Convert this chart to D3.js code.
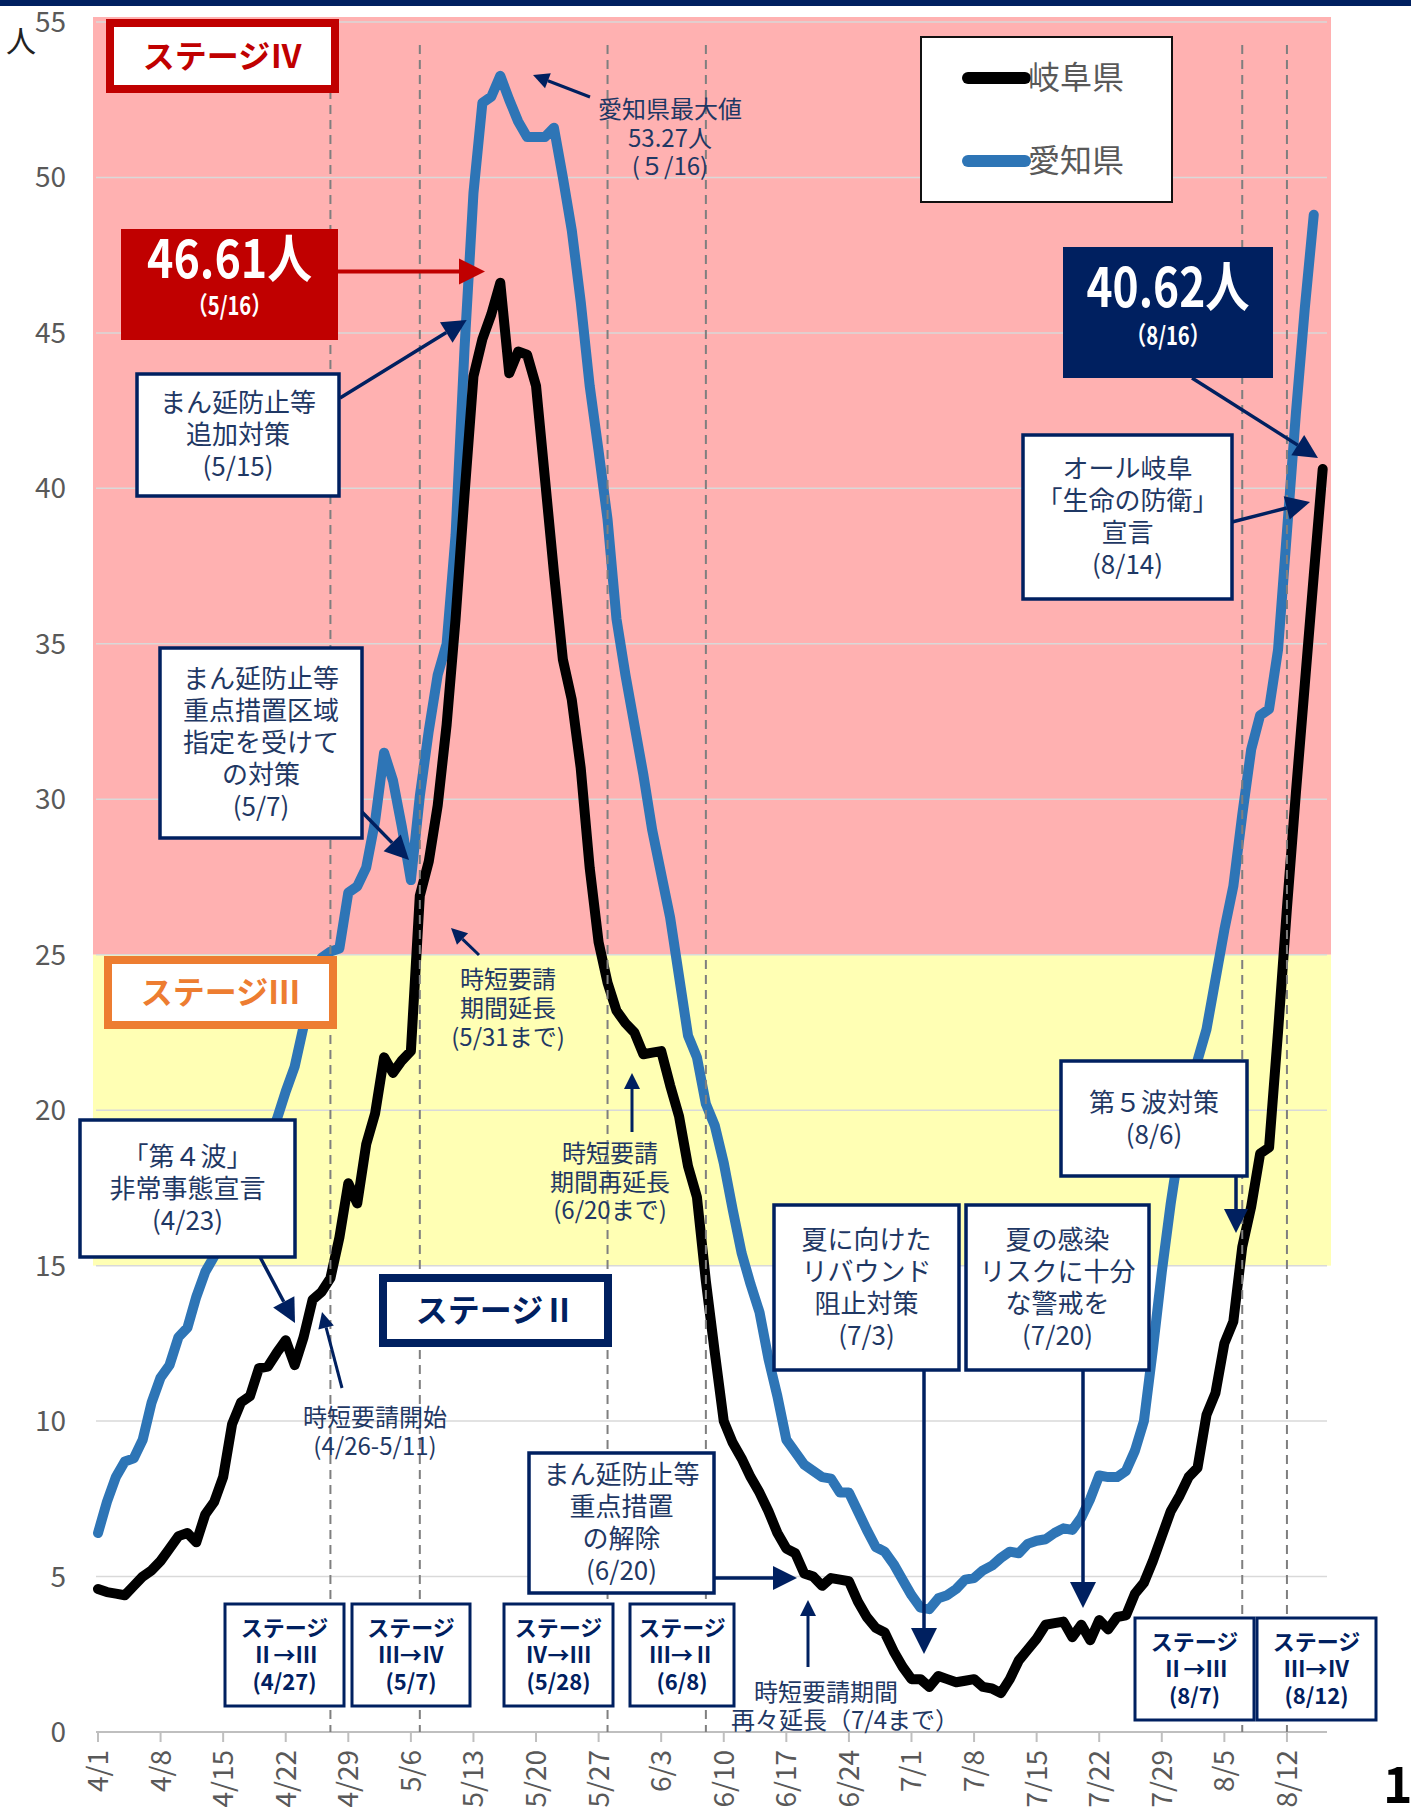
<!DOCTYPE html>
<html>
<head>
<meta charset="utf-8">
<script src="https://cdn.jsdelivr.net/npm/d3@7"></script>
<style>
  body { margin: 0; background: #fff; }
  svg { display: block; font-family: "Noto Sans CJK JP", "Noto Sans", sans-serif; }
</style>
</head>
<body>
<svg id="chart" width="1411" height="1817"></svg>
<script>
const svg = d3.select('#chart')

// ---- data ----
const days = d3.timeDay.range(new Date(2021, 3, 1), new Date(2021, 7, 17)) // 4/1 .. 8/16
const tickLabels = ['4/1','4/8','4/15','4/22','4/29','5/6','5/13','5/20','5/27','6/3',
  '6/10','6/17','6/24','7/1','7/8','7/15','7/22','7/29','8/5','8/12']
const yTicks = [0, 5, 10, 15, 20, 25, 30, 35, 40, 45, 50, 55]

// 岐阜県 (4/1 - 8/16)
const gifu = [
  4.6, 4.5, 4.45, 4.4, 4.7, 5.0, 5.2, 5.5, 5.9, 6.3,
  6.4, 6.1, 7.0, 7.4, 8.2, 9.9, 10.6, 10.8, 11.7, 11.75,
  12.2, 12.6, 11.8, 12.7, 13.9, 14.15, 14.6, 15.9, 17.65, 17.0,
  18.9, 19.9, 21.7, 21.2, 21.6, 21.9, 26.9, 28.0, 29.8, 32.4,
  35.8, 39.8, 43.6, 44.8, 45.6, 46.61, 43.7, 44.4, 44.3, 43.3,
  40.3, 37.3, 34.5, 33.2, 31.0, 27.8, 25.4, 24.1, 23.2, 22.8,
  22.5,
  21.8, 21.85, 21.9, 20.8, 19.8, 18.2, 17.2, 14.5, 12.2, 10.0,
  9.3, 8.8, 8.2, 7.7, 7.1, 6.4, 5.9, 5.75, 5.1, 5.0,
  4.7, 4.95, 4.9, 4.85, 4.2, 3.7, 3.35, 3.2, 2.6, 2.1,
  1.7, 1.7, 1.45, 1.8, 1.7, 1.6, 1.65, 1.7, 1.45, 1.4,
  1.25, 1.7, 2.3, 2.65, 3.0, 3.45, 3.5, 3.55, 3.05, 3.45,
  2.95, 3.6, 3.3, 3.7, 3.75, 4.45, 4.8, 5.5, 6.3, 7.1,
  7.6,
  8.2, 8.5, 10.2, 10.9, 12.5, 13.2, 15.6, 16.9, 18.6, 18.8,
  22.5, 26.5, 30.2, 33.7, 37.2, 40.62
]

// 愛知県 (4/1 - 8/15)
const aichi = [
  6.4, 7.4, 8.2, 8.7, 8.8, 9.4, 10.6, 11.4, 11.8, 12.7,
  13.0, 14.0, 14.8, 15.3, 15.9, 16.6, 17.2, 17.7, 18.3, 19.0,
  19.7, 20.6, 21.4, 22.7, 24.0, 24.9, 25.1, 25.2, 27.0, 27.2,
  27.8, 29.3, 31.5, 30.6, 29.1, 27.4, 30.1, 32.2, 34.0, 35.0,
  38.5, 44.5, 49.5, 52.4, 52.6, 53.27, 52.5, 51.8, 51.3, 51.3,
  51.3, 51.6, 50.0, 48.3, 46.0, 43.3, 41.2, 39.0, 35.8, 34.0,
  32.4,
  30.8, 29.0, 27.6, 26.2, 24.3, 22.4, 21.7, 20.2, 19.5, 18.3,
  16.8, 15.4, 14.4, 13.5, 12.0, 10.8, 9.4, 9.0, 8.6, 8.4,
  8.2, 8.15, 7.7, 7.7, 7.1, 6.5, 5.95, 5.8, 5.4, 4.9,
  4.4, 4.0, 3.95, 4.3, 4.4, 4.6, 4.9, 4.95, 5.2, 5.35,
  5.6, 5.8, 5.75, 6.05, 6.15, 6.2, 6.4, 6.55, 6.5, 6.9,
  7.5, 8.25, 8.2, 8.2, 8.4, 9.05, 10.0, 12.3, 14.8, 17.0,
  18.9,
  20.4, 21.6, 22.6, 24.2, 25.8, 27.2, 29.5, 31.6, 32.7, 32.9,
  34.8, 38.6, 42.4, 45.8, 48.8
]

const stageDates = ['4/27', '5/7', '5/28', '6/8', '8/7', '8/12']

const parseMD = s => { const [m, d] = s.split('/').map(Number); return new Date(2021, m - 1, d) }

// ---- colours ----
const navy = '#002060'
const noteColor = '#1F3864'
const gray = '#595959'

// ---- scales ----
const x = d3.scaleTime().domain([days[0], days[days.length - 1]]).range([98, 1322.7])
const y = d3.scaleLinear().domain([0, 55]).range([1732, 22])
const plotL = 93, plotR = 1331

// top bar
svg.append('rect').attr('x', 0).attr('y', 0).attr('width', 1411).attr('height', 6).attr('fill', navy)

// stage bands
svg.append('rect').attr('x', plotL).attr('y', y(55) - 5).attr('width', plotR - plotL)
  .attr('height', y(25) - y(55) + 5).attr('fill', '#FFB1B1')
svg.append('rect').attr('x', plotL).attr('y', y(25)).attr('width', plotR - plotL)
  .attr('height', y(15) - y(25)).attr('fill', '#FFFFB4')

// grid
svg.append('g').selectAll('line').data(yTicks.filter(v => v > 0)).join('line')
  .attr('x1', 96).attr('x2', 1327)
  .attr('y1', d => y(d)).attr('y2', d => y(d))
  .attr('stroke', '#D9D9D9').attr('stroke-width', 1.5)

// y axis labels
svg.append('g').selectAll('text').data(yTicks).join('text')
  .attr('x', 66).attr('y', d => y(d) + 10)
  .attr('text-anchor', 'end')
  .attr('font-size', 28).attr('fill', gray)
  .text(d => d)
svg.append('text').attr('x', 21).attr('y', 52).attr('text-anchor', 'middle')
  .attr('font-size', 30).attr('fill', '#222').text('人')

// x axis
svg.append('line').attr('x1', 96).attr('x2', 1327).attr('y1', y(0)).attr('y2', y(0))
  .attr('stroke', '#BFBFBF').attr('stroke-width', 2)
const xt = svg.append('g')
xt.selectAll('line').data(tickLabels).join('line')
  .attr('x1', d => x(parseMD(d))).attr('x2', d => x(parseMD(d)))
  .attr('y1', y(0)).attr('y2', y(0) + 10)
  .attr('stroke', '#BFBFBF').attr('stroke-width', 2)
xt.selectAll('text').data(tickLabels).join('text')
  .attr('transform', d => `translate(${x(parseMD(d)) + 10},1750) rotate(-90)`)
  .attr('text-anchor', 'end')
  .attr('font-size', 28).attr('fill', gray)
  .text(d => d)

// series
const line = d3.line().x((d, i) => x(days[i])).y(d => y(d))
svg.append('path').datum(aichi).attr('d', line).attr('fill', 'none')
  .attr('stroke', '#2E75B6').attr('stroke-width', 10)
  .attr('stroke-linejoin', 'round').attr('stroke-linecap', 'round')
svg.append('path').datum(gifu).attr('d', line).attr('fill', 'none')
  .attr('stroke', '#000').attr('stroke-width', 10)
  .attr('stroke-linejoin', 'round').attr('stroke-linecap', 'round')

// stage change dashed lines
svg.append('g').selectAll('line').data(stageDates).join('line')
  .attr('x1', d => x(parseMD(d))).attr('x2', d => x(parseMD(d)))
  .attr('y1', 45).attr('y2', y(0))
  .attr('stroke', '#7F7F7F').attr('stroke-width', 2).attr('stroke-dasharray', '9 6')

// ---- annotations ----
const ann = svg.append('g')

function arrow(x1, y1, x2, y2, color, sw, hl, hw) {
  const a = Math.atan2(y2 - y1, x2 - x1)
  const bx = x2 - hl * Math.cos(a), by = y2 - hl * Math.sin(a)
  const px = -Math.sin(a) * hw, py = Math.cos(a) * hw
  ann.append('line').attr('x1', x1).attr('y1', y1).attr('x2', bx).attr('y2', by)
    .attr('stroke', color).attr('stroke-width', sw)
  ann.append('path').attr('d', `M${x2},${y2}L${bx + px},${by + py}L${bx - px},${by - py}Z`).attr('fill', color)
}

// one text element per block, one tspan per line (ys = visual line centres)
function textLines(cx, ys, lines, size, color, weight) {
  const t = ann.append('text')
    .attr('text-anchor', 'middle')
    .attr('font-size', size).attr('font-weight', weight || 400).attr('fill', color)
  lines.forEach((s, i) => {
    t.append('tspan').attr('x', cx).attr('y', ys[i] + size * 0.36).text(s)
  })
  return t
}

function noteBox(x0, y0, x1, y1, lines) {
  ann.append('rect').attr('x', x0).attr('y', y0).attr('width', x1 - x0).attr('height', y1 - y0)
    .attr('fill', '#fff').attr('stroke', navy).attr('stroke-width', 3.5)
  const cy = (y0 + y1) / 2
  const ys = lines.map((t, i) => cy + (i - (lines.length - 1) / 2) * 32)
  textLines((x0 + x1) / 2, ys, lines, 26, noteColor)
}

function stageBox(x0, y0, x1, y1, label, color) {
  ann.append('rect').attr('x', x0).attr('y', y0).attr('width', x1 - x0).attr('height', y1 - y0)
    .attr('fill', '#fff').attr('stroke', color).attr('stroke-width', 8)
  textLines((x0 + x1) / 2, [(y0 + y1) / 2], [label], 32, color, 700)
}

function changeBox(x0, y0, x1, y1, lines) {
  ann.append('rect').attr('x', x0).attr('y', y0).attr('width', x1 - x0).attr('height', y1 - y0)
    .attr('fill', '#fff').attr('stroke', navy).attr('stroke-width', 3)
  const cy = (y0 + y1) / 2
  textLines((x0 + x1) / 2, [cy - 27, cy, cy + 27], lines, 22, navy, 700)
}

// stage labels
stageBox(110, 23, 335, 89, 'ステージⅣ', '#C00000')
stageBox(108, 960, 333, 1025, 'ステージⅢ', '#ED7D31')
stageBox(383, 1278, 608, 1343, 'ステージⅡ', navy)

// peak value boxes
ann.append('rect').attr('x', 121).attr('y', 229).attr('width', 217).attr('height', 111).attr('fill', '#C00000')
const redT = ann.append('text').attr('text-anchor', 'middle').attr('font-weight', 700).attr('fill', '#fff')
redT.append('tspan').attr('x', 229.5).attr('y', 278).attr('font-size', 52)
  .attr('textLength', 165).attr('lengthAdjust', 'spacingAndGlyphs').text('46.61人')
redT.append('tspan').attr('x', 229.5).attr('y', 315).attr('font-size', 25)
  .attr('textLength', 84).attr('lengthAdjust', 'spacingAndGlyphs').text('（5/16）')
arrow(338, 271.5, 485, 271.5, '#C00000', 4, 26, 13)

ann.append('rect').attr('x', 1063).attr('y', 247).attr('width', 210).attr('height', 131).attr('fill', navy)
const navyT = ann.append('text').attr('text-anchor', 'middle').attr('font-weight', 700).attr('fill', '#fff')
navyT.append('tspan').attr('x', 1168).attr('y', 307).attr('font-size', 54)
  .attr('textLength', 163).attr('lengthAdjust', 'spacingAndGlyphs').text('40.62人')
navyT.append('tspan').attr('x', 1168).attr('y', 345).attr('font-size', 25)
  .attr('textLength', 84).attr('lengthAdjust', 'spacingAndGlyphs').text('（8/16）')
arrow(1192, 378, 1318, 458, navy, 3.5, 24, 12)

// legend
ann.append('rect').attr('x', 921).attr('y', 37).attr('width', 251).attr('height', 165)
  .attr('fill', '#fff').attr('stroke', '#111').attr('stroke-width', 2)
const legendItems = [['岐阜県', '#000', 78], ['愛知県', '#2E75B6', 161]]
legendItems.forEach(([name, c, ly]) => {
  ann.append('line').attr('x1', 968).attr('x2', 1025).attr('y1', ly).attr('y2', ly)
    .attr('stroke', c).attr('stroke-width', 12).attr('stroke-linecap', 'round')
  ann.append('text').attr('x', 1028).attr('y', ly + 11)
    .attr('font-size', 32).attr('fill', gray).text(name)
})

// boxed notes
noteBox(137, 374, 339, 496, ['まん延防止等', '追加対策', '(5/15)'])
arrow(340, 398, 466.7, 320, navy, 3.5, 24, 12)

noteBox(160, 648, 362, 838, ['まん延防止等', '重点措置区域', '指定を受けて', 'の対策', '(5/7)'])
arrow(362, 812, 409, 860, navy, 3.5, 24, 12)

noteBox(80, 1120, 295, 1257, ['「第４波」', '非常事態宣言', '(4/23)'])
arrow(260, 1257, 295, 1323, navy, 3.5, 24, 12)

noteBox(774, 1205, 959, 1370, ['夏に向けた', 'リバウンド', '阻止対策', '(7/3)'])
arrow(924, 1370, 924, 1654, navy, 3.5, 26, 13)

noteBox(966, 1205, 1149, 1370, ['夏の感染', 'リスクに十分', 'な警戒を', '(7/20)'])
arrow(1083, 1370, 1083, 1608, navy, 3.5, 26, 13)

noteBox(1061, 1061, 1247, 1176, ['第５波対策', '(8/6)'])
arrow(1236, 1176, 1236, 1233, navy, 3.5, 24, 12)

noteBox(1023, 435, 1232, 599, ['オール岐阜', '「生命の防衛」', '宣言', '(8/14)'])
arrow(1232, 522, 1310, 502, navy, 3.5, 24, 12)

noteBox(529, 1453, 714, 1593, ['まん延防止等', '重点措置', 'の解除', '(6/20)'])
arrow(714, 1578, 797, 1578, navy, 3.5, 24, 12)

// plain notes
textLines(375, [1417, 1446], ['時短要請開始', '(4/26-5/11)'], 24, noteColor)
arrow(342, 1388, 322, 1312, navy, 3, 16, 8)

textLines(508, [979, 1008, 1037], ['時短要請', '期間延長', '(5/31まで)'], 24, noteColor)
arrow(479, 955, 451, 928, navy, 3, 16, 8)

textLines(610, [1153, 1182, 1210], ['時短要請', '期間再延長', '(6/20まで)'], 24, noteColor)
arrow(632, 1132, 632, 1073, navy, 3, 16, 8)

textLines(670, [109, 138, 166], ['愛知県最大値', '53.27人', '(５/16)'], 24, noteColor)
arrow(590, 97, 533, 75, navy, 3, 16, 8)

const m = textLines(826, [1692, 1720], ['時短要請期間', '再々延長（7/4まで）'], 24, noteColor)
m.selectAll('tspan').filter((d, i) => i === 1).attr('x', 845)
arrow(808, 1667, 808, 1600, navy, 3, 16, 8)

// stage change boxes
changeBox(225, 1604, 344, 1706, ['ステージ', 'Ⅱ→Ⅲ', '(4/27)'])
changeBox(352, 1604, 470, 1706, ['ステージ', 'Ⅲ→Ⅳ', '(5/7)'])
changeBox(504, 1604, 613, 1706, ['ステージ', 'Ⅳ→Ⅲ', '(5/28)'])
changeBox(630, 1604, 734, 1706, ['ステージ', 'Ⅲ→Ⅱ', '(6/8)'])
changeBox(1135, 1618, 1254, 1720, ['ステージ', 'Ⅱ→Ⅲ', '(8/7)'])
changeBox(1257, 1618, 1376, 1720, ['ステージ', 'Ⅲ→Ⅳ', '(8/12)'])

// page number
svg.append('text').attr('x', 1383).attr('y', 1803).attr('font-size', 50)
  .attr('font-weight', 700).attr('fill', '#000').text('1')
</script>
</body>
</html>
